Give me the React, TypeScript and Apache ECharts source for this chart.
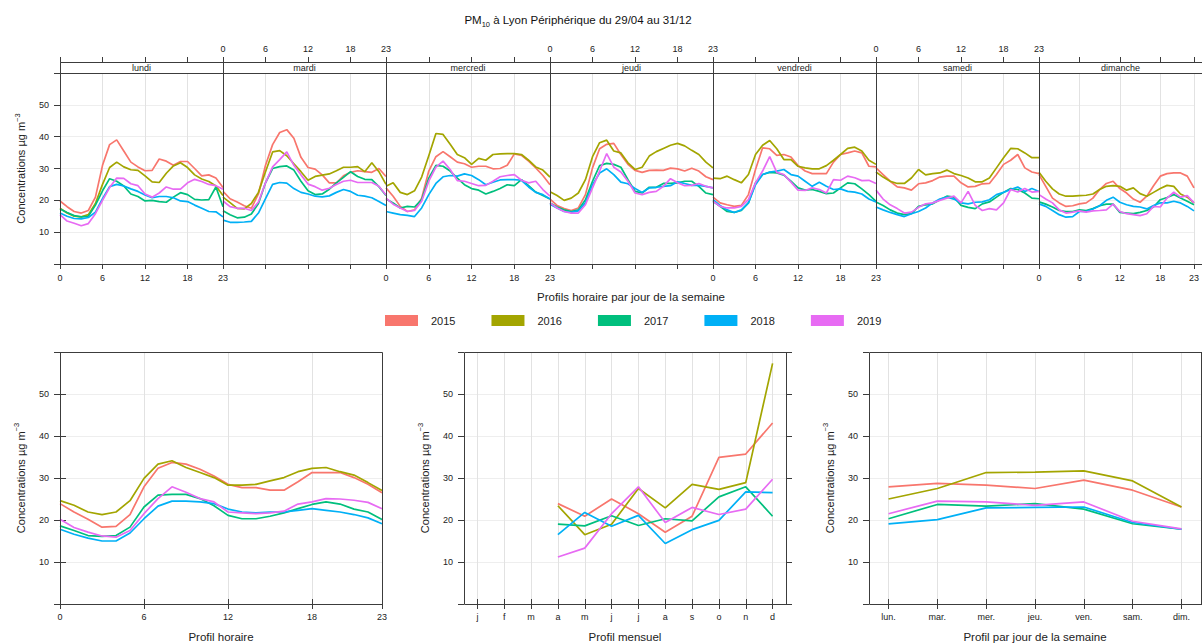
import React, { useEffect, useRef } from 'react';
import * as echarts from 'echarts';

// ---------------- data ----------------
const years = ['2015', '2016', '2017', '2018', '2019'];
const yearColors = ['#F8766D', '#A3A500', '#00BF7D', '#00B0F6', '#E76BF3'];
const dayNames = ['lundi', 'mardi', 'mercredi', 'jeudi', 'vendredi', 'samedi', 'dimanche'];
const hours = [0, 1, 2, 3, 4, 5, 6, 7, 8, 9, 10, 11, 12, 13, 14, 15, 16, 17, 18, 19, 20, 21, 22, 23];
const monthLabels = ['j', 'f', 'm', 'a', 'm', 'j', 'j', 'a', 's', 'o', 'n', 'd'];
const weekdayLabels = ['lun.', 'mar.', 'mer.', 'jeu.', 'ven.', 'sam.', 'dim.'];

// hourly profile per weekday (lundi..dimanche), one array per year
const week2015 = [
  [19.8, 18, 16.5, 16, 16.8, 21, 31, 37.5, 39, 35.5, 32, 30.5, 29.3, 29.4, 33, 32.3, 31, 32.2, 32.2, 30, 27.7, 28, 27, 24],
  [22.8, 20.5, 19.5, 18.3, 17.5, 22, 31, 37.5, 41.3, 42.2, 39.5, 33.5, 30.3, 29.8, 28, 25.5, 25.5, 27.7, 28.8, 29.3, 29, 28.8, 30, 27.5],
  [23.9, 21.3, 18.1, 16.5, 17, 20.7, 29.2, 33.7, 35.3, 33.7, 32, 31.5, 30.4, 30.7, 30.7, 29.9, 30, 31, 34.6, 34.1, 32.3, 30.2, 27.8, 24.9],
  [20.4, 18.4, 17.4, 16.8, 17.6, 21.8, 30.2, 36.2, 37.6, 37.9, 34.4, 31.3, 29.4, 28.8, 29.4, 29.5, 29.4, 30.1, 29.9, 29.2, 30.1, 29.2, 27.4, 26.5],
  [21, 19.2, 18.6, 18.1, 18.4, 21.8, 29.7, 36.5, 36.2, 34.1, 34.4, 33.6, 30.9, 29.2, 28.4, 28.4, 28.4, 32, 34.4, 34.9, 35.5, 34.9, 30.7, 30.5],
  [30.2, 28.1, 26, 24.2, 23.9, 23.2, 25.2, 25.5, 26.2, 27.3, 27.6, 27.6, 25.5, 24.2, 24.4, 25.2, 25.3, 28.1, 31.3, 32.6, 34.4, 30.2, 28.9, 28.4],
  [28.1, 24.4, 20.7, 19.2, 18.1, 18.3, 18.9, 19.2, 20.7, 23.4, 25.3, 26, 23.7, 22.3, 20.4, 19.4, 21.3, 24.6, 27.6, 28.4, 28.6, 28.6, 27.6, 23.9],
];
const week2016 = [
  [17.5, 16, 15, 14.8, 15.5, 19, 25, 30.3, 32, 30.5, 29.6, 29.4, 27.7, 25.8, 25.6, 28.5, 30.8, 31.8, 30.3, 28, 26.7, 25.9, 24.5, 21.5],
  [21, 19.3, 17.5, 17.3, 19, 22.5, 29, 35.2, 35.6, 34, 31.5, 29, 26.3, 27.5, 27.9, 28.3, 29.3, 30.4, 30.4, 30.6, 29, 31.8, 29, 25],
  [24.4, 25.5, 22.5, 21.8, 23, 27.3, 34, 41, 40.7, 37.6, 34.4, 33.4, 31.3, 33.2, 32.6, 34.4, 34.6, 34.7, 34.7, 34.4, 32.6, 30.5, 29.5, 27.3],
  [22.7, 21.5, 20, 20.7, 22.3, 26.5, 33.7, 38.1, 38.9, 35.5, 34.9, 31.8, 29.7, 30.4, 33.9, 35.3, 36.3, 37.3, 37.9, 37.1, 35.7, 34.4, 32, 30.2],
  [27, 26.8, 27.6, 26.5, 25.5, 28.1, 34.4, 37.3, 38.8, 36.2, 32.8, 32.8, 30.7, 30.2, 29.9, 29.9, 30.9, 32.6, 34.4, 36.3, 36.7, 35.5, 32.6, 31.3],
  [28.9, 27.3, 26, 25.3, 25.3, 27, 29.7, 28, 28.4, 28.6, 29.5, 28.4, 27.8, 27, 25.8, 25.8, 27, 30.2, 33.4, 36.3, 36.2, 34.9, 33.4, 33.4],
  [28.8, 26, 23.6, 22, 21.3, 21.3, 21.5, 21.6, 22, 23.4, 24.4, 24.6, 24.4, 23.2, 23.9, 22.1, 21.3, 22.5, 23.7, 24.7, 24.4, 22, 21, 19.2],
];
const week2017 = [
  [17.3, 16.2, 15.2, 14.8, 15, 18.5, 23, 26.8, 26, 24.5, 22, 21.2, 19.8, 20, 19.6, 19.4, 21, 22.4, 21.8, 20.3, 20.1, 20.2, 24.2, 18],
  [16.7, 15.5, 14.5, 14.7, 15.7, 19, 25.5, 30, 30.6, 30.8, 29.5, 26, 23, 21.8, 22, 23.5, 25.5, 27.2, 29, 27.5, 26.6, 26.5, 24.3, 21.5],
  [20.4, 19.2, 17.6, 18.1, 17.9, 20.2, 27, 31, 30.7, 29.2, 27, 24.9, 23.7, 23.2, 22, 22.8, 23.7, 24.9, 24.6, 26.5, 24.6, 22.6, 21.5, 20.4],
  [19.2, 17.9, 17, 16.5, 17, 20.2, 26, 30.9, 31.6, 31.3, 30.4, 26.5, 22.8, 22.3, 24.1, 24.1, 25.3, 25.3, 25.5, 26, 26, 24.4, 22.3, 21.8],
  [19.7, 18.1, 16.5, 16.2, 16.8, 19.2, 25.5, 28.1, 28.8, 28.6, 27.9, 26, 23.9, 23.2, 23.4, 22.8, 22.1, 22.3, 23.9, 25.5, 25.2, 23.6, 21.8, 19.7],
  [19.5, 18.4, 17, 16, 15.5, 15.8, 18.1, 18.6, 18.9, 20.2, 21.3, 21, 18.4, 17.8, 17.4, 18.9, 19.5, 21, 22.5, 23.7, 23.4, 22.3, 20.7, 20.5],
  [19.5, 18.8, 17.9, 16.8, 16.5, 16.5, 17, 16.8, 17.4, 18.3, 18.8, 18.8, 16.2, 16, 15.8, 16.2, 16.8, 17.9, 20.2, 20.9, 21.8, 20.7, 19.7, 18.6],
];
const week2018 = [
  [16, 15, 14.3, 14.2, 14.6, 16.3, 20.5, 24.3, 25, 24.5, 23.6, 22.8, 21.7, 20.8, 21.2, 21.2, 20.8, 19.8, 19.6, 18.5, 17.5, 16.5, 16.4, 14.8],
  [13.8, 13.1, 13.1, 13.2, 13.4, 16, 20.5, 25, 25.6, 25.4, 23.7, 22.5, 22, 21.3, 21.1, 21.4, 22.5, 23.4, 22.8, 21.6, 21.3, 20.8, 19.6, 18.4],
  [16.5, 16, 15.5, 15.3, 14.9, 17.6, 21.8, 25.3, 27.4, 27.8, 27.6, 28.3, 27.8, 26.5, 24.9, 25.7, 26.4, 26.5, 26.5, 26.3, 24.2, 22.5, 21.8, 20.4],
  [18.8, 17.6, 16.5, 16.2, 16.7, 19.2, 24.9, 28.6, 29.9, 28.1, 25.7, 25.2, 23.7, 22.5, 23.9, 24.1, 24.4, 24.6, 25.8, 25.3, 24.7, 24.7, 24.4, 23.9],
  [20.2, 18.4, 17, 16.2, 17, 19.2, 24.9, 28.1, 28.9, 29.2, 29.7, 28.1, 27.6, 26, 24.4, 25.7, 24.4, 23.4, 23.6, 22.8, 22.6, 22, 20.4, 19.5],
  [17.9, 17, 16.2, 15.5, 14.9, 15.8, 16.5, 17.6, 19.2, 20.4, 21, 20.4, 19.2, 18.9, 19.4, 19.5, 20.2, 21.8, 22.5, 23.4, 24.2, 22.8, 23.7, 22.8],
  [18.9, 18.1, 16.8, 15.5, 14.7, 14.9, 16.5, 16.5, 17.3, 18.3, 20, 21, 19.4, 18.6, 18.1, 17.9, 17.3, 18.4, 19.2, 19.2, 19.7, 19.2, 18.1, 16.7],
];
const week2019 = [
  [15.5, 13.5, 12.8, 12, 12.7, 15.8, 20, 24, 27, 26.9, 25.2, 24.6, 22, 21, 22.3, 24.2, 23.5, 23.5, 25.5, 26.6, 25.9, 25, 24.6, 23.5],
  [19.8, 18, 17.5, 17.5, 16.8, 19.5, 25.5, 30.5, 32.8, 35.2, 31, 28, 25.1, 24.3, 23.2, 23.8, 25, 26, 26.3, 25.6, 25.6, 25.6, 24.4, 21.7],
  [20.7, 18.8, 17.6, 16.5, 16.8, 19.7, 26, 30.4, 32.3, 29.7, 26.2, 26, 25.3, 24.6, 24.7, 26, 27.4, 27.8, 28.1, 26.3, 25.5, 26, 23.4, 21.3],
  [19.2, 17.6, 16.5, 16, 16, 18.6, 23.9, 29.2, 34.7, 30.4, 28.9, 26, 22.3, 21.8, 22.5, 22.8, 24.4, 26.8, 25.5, 24.6, 24.7, 25.3, 24.4, 23.9],
  [19.7, 18.1, 17.6, 17.6, 18.1, 20.2, 25.5, 29.2, 33.7, 28.8, 28.1, 25.7, 23.2, 23.1, 23.9, 23.4, 22.3, 26.5, 26.3, 27.6, 27.1, 26.2, 26.3, 25.3],
  [23.2, 20.4, 18.6, 17.4, 16, 16.3, 17.8, 18.9, 19.2, 20, 20.7, 21.3, 19.2, 22.8, 18.4, 16.8, 17.4, 17, 19.2, 23.4, 22.6, 23.7, 22.6, 22.8],
  [21.8, 20.4, 19.2, 17, 16, 16.3, 16.7, 16.3, 16.7, 16.8, 17, 18.8, 16.5, 15.8, 15.5, 15.2, 15.8, 18.1, 17.9, 20.7, 22.6, 21, 21.5, 19.2],
];

// overall hourly profile
const hourly2015 = [23.9, 21.9, 20.2, 18.3, 18.5, 21.3, 27.9, 32.3, 33.7, 33.3, 32.1, 30.5, 28.5, 27.7, 27.7, 27.1, 27.1, 29.1, 31.3, 31.3, 31.3, 30.1, 28.5, 26.5];
const hourly2016 = [24.6, 23.5, 21.9, 21.3, 21.9, 24.6, 29.9, 33.3, 34.1, 32.5, 31.3, 30.1, 28.3, 28.3, 28.5, 29.3, 30.1, 31.5, 32.3, 32.5, 31.5, 30.7, 28.9, 27];
const hourly2017 = [18.6, 17.5, 16.3, 16.1, 16.3, 18.3, 23.1, 25.9, 26.1, 26.1, 25.1, 23.4, 21.1, 20.3, 20.3, 20.9, 21.7, 22.7, 23.7, 24.3, 23.8, 22.6, 21.9, 20.1];
const hourly2018 = [17.8, 16.6, 15.7, 15, 15, 16.9, 20.3, 23.3, 24.5, 24.5, 24.3, 23.9, 22.6, 21.9, 21.7, 21.9, 21.9, 22.3, 22.7, 22.3, 21.9, 21.3, 20.5, 19.1];
const hourly2019 = [20.2, 18.2, 17.1, 16.2, 15.9, 17.5, 21.5, 25.1, 27.9, 26.6, 25.1, 24.3, 21.9, 21.7, 21.5, 21.7, 22.1, 23.8, 24.3, 25.1, 25, 24.7, 24.2, 22.7];

// monthly profile (j..d), no data before April
const monthly2015 = [null, null, null, 23.9, 20.9, 25, 21.5, 17.1, 20.9, 34.9, 35.7, 43.1];
const monthly2016 = [null, null, null, 23.4, 16.5, 19, 27.5, 22.9, 28.5, 27.3, 28.9, 57.3];
const monthly2017 = [null, null, null, 19, 18.6, 21, 18.7, 20.3, 19.8, 25.5, 27.9, 20.9];
const monthly2018 = [null, null, null, 16.5, 21.8, 18.5, 21.1, 14.4, 17.7, 19.9, 26.7, 26.5];
const monthly2019 = [null, null, null, 11.2, 13.3, 21.5, 27.9, 19.4, 23, 21.3, 22.6, 29.7];

// weekday profile (lun..dim)
const weekday2015 = [27.9, 28.7, 28.3, 27.5, 29.5, 27.1, 23.1];
const weekday2016 = [25, 27.5, 31.3, 31.4, 31.7, 29.3, 23.1];
const weekday2017 = [20.3, 23.7, 23.3, 23.9, 22.6, 19.1, 17.8];
const weekday2018 = [19.1, 20.1, 22.9, 23, 23.1, 19.4, 17.8];
const weekday2019 = [21.5, 24.5, 24.3, 23.5, 24.3, 19.7, 17.9];

const weekByYear = [week2015, week2016, week2017, week2018, week2019];
const hourlyByYear = [hourly2015, hourly2016, hourly2017, hourly2018, hourly2019];
const monthlyByYear = [monthly2015, monthly2016, monthly2017, monthly2018, monthly2019];
const weekdayByYear = [weekday2015, weekday2016, weekday2017, weekday2018, weekday2019];

// ---------------- layout / style ----------------
const FONT = '"Liberation Sans", Arial, Helvetica, sans-serif';
const TXT = '#222';
const FRAME = '#3c3c3c';
const VGRID = '#e2e2e2';
const HGRID = '#eeeeee';

const TOP_LEFT = 60;
const DAY_STEP = 163.17;
const TOP_Y = 73;
const TOP_H = 191;
const STRIP_H = 11;
const BOT_Y = 352;
const BOT_H = 252;
const BOT_LEFTS = [60, 464, 869];
const BOT_WIDTHS = [322, 322, 332];

const yNameText = '{t|Concentrations µg m}{s|−3}';
const yNameStyle = {
  color: TXT,
  rich: {
    t: { fontSize: 11, fontFamily: FONT, color: TXT, lineHeight: 16, fontWeight: 'normal' },
    s: { fontSize: 7.5, fontFamily: FONT, color: TXT, lineHeight: 8, verticalAlign: 'top', fontWeight: 'normal' },
  },
};
const yFmt = (v: number) => (v > 0 && v < 60 ? String(v) : '');
const lbl = (show: boolean, margin: number, extra: any = {}) => ({
  show,
  fontSize: 9,
  color: TXT,
  fontFamily: FONT,
  margin,
  ...extra,
});
const tick = (show: boolean, length: number, extra: any = {}) => ({
  show,
  length,
  lineStyle: { color: FRAME, width: 1 },
  ...extra,
});

function buildOption() {
  const grid: any[] = [];
  const xAxis: any[] = [];
  const yAxis: any[] = [];
  const series: any[] = [];
  const title: any[] = [];
  const graphic: any[] = [];

  const lineSeries = (y: number, xi: number, yi: number, data: any[]) => ({
    name: years[y],
    type: 'line',
    xAxisIndex: xi,
    yAxisIndex: yi,
    data,
    symbol: 'none',
    showSymbol: false,
    silent: true,
    z: 3,
    itemStyle: { color: yearColors[y] },
    lineStyle: { color: yearColors[y], width: 1.7 },
  });

  // ---- top panel: 7 days ----
  dayNames.forEach((day, d) => {
    const left = Math.round(TOP_LEFT + d * DAY_STEP);
    const right = Math.round(TOP_LEFT + (d + 1) * DAY_STEP);
    const width = right - left;
    grid.push({ left, top: TOP_Y, width, height: TOP_H, containLabel: false });
    xAxis.push({
      type: 'value', gridIndex: d, min: 0, max: 23, interval: 6, position: 'bottom',
      axisLine: { show: false },
      axisTick: tick(true, 5),
      axisLabel: lbl(d % 2 === 0, 9),
      splitLine: { show: true, lineStyle: { color: VGRID, width: 1 } },
    });
    xAxis.push({
      type: 'value', gridIndex: d, min: 0, max: 23, interval: 6, position: 'top', offset: STRIP_H,
      axisLine: { show: false },
      axisTick: tick(true, 5),
      axisLabel: lbl(d % 2 === 1, 9),
      splitLine: { show: false },
    });
    yAxis.push({
      type: 'value', gridIndex: d, min: 0, max: 60, interval: 10,
      axisLine: { show: false },
      axisTick: tick(d === 0, 6),
      axisLabel: lbl(d === 0, 11, { formatter: yFmt }),
      splitLine: { show: true, lineStyle: { color: HGRID, width: 1 } },
      name: d === 0 ? yNameText : '',
      nameLocation: 'middle', nameGap: 31, nameRotate: 90, nameTextStyle: yNameStyle,
    });
    // strip (below the strip label) + frame (on top of everything)
    graphic.push({
      type: 'rect', z: 1, silent: true,
      shape: { x: left + 0.5, y: TOP_Y - STRIP_H + 0.5, width, height: STRIP_H },
      style: { fill: '#ffffff', stroke: FRAME, lineWidth: 1 },
    });
    graphic.push({
      type: 'rect', z: 100, silent: true,
      shape: { x: left + 0.5, y: TOP_Y - STRIP_H + 0.5, width, height: STRIP_H },
      style: { fill: 'none', stroke: FRAME, lineWidth: 1 },
    });
    graphic.push({
      type: 'rect', z: 100, silent: true,
      shape: { x: left + 0.5, y: TOP_Y + 0.5, width, height: TOP_H },
      style: { fill: 'none', stroke: FRAME, lineWidth: 1 },
    });
    title.push({
      text: day, left: left + width / 2, top: TOP_Y - STRIP_H / 2 + 0.5,
      textAlign: 'center', textVerticalAlign: 'middle', padding: 0, z: 20,
      textStyle: { fontSize: 9, fontWeight: 'normal', color: TXT, fontFamily: FONT },
    });
    years.forEach((_, y) => {
      series.push(lineSeries(y, 2 * d, d, hours.map((h, k) => [h, weekByYear[y][d][k]])));
    });
  });

  // ---- bottom panels ----
  const xNames = ['Profil horaire', 'Profil mensuel', 'Profil par jour de la semaine'];
  const monthTicks = monthLabels.map((_, k) => k + 1);
  const weekdayTicks = weekdayLabels.map((_, k) => k + 1);
  const xCfg = [
    { min: 0, max: 23, interval: 6 },
    { min: 0.5, max: 12.5, ticks: monthTicks, fmt: (v: number) => monthLabels[Math.round(v) - 1] || '' },
    { min: 0.6, max: 7.4, ticks: weekdayTicks, fmt: (v: number) => weekdayLabels[Math.round(v) - 1] || '' },
  ];
  for (let p = 0; p < 3; p++) {
    const g = 7 + p;
    const left = BOT_LEFTS[p];
    const width = BOT_WIDTHS[p];
    grid.push({ left, top: BOT_Y, width, height: BOT_H, containLabel: false });
    const cfg: any = xCfg[p];
    const base: any = { type: 'value', gridIndex: g, min: cfg.min, max: cfg.max };
    if (cfg.interval) base.interval = cfg.interval;
    const labelExtra: any = {};
    const tickExtra: any = {};
    if (cfg.ticks) {
      labelExtra.customValues = cfg.ticks;
      labelExtra.formatter = cfg.fmt;
      tickExtra.customValues = cfg.ticks;
    }
    xAxis.push({
      ...base, position: 'bottom',
      axisLine: { show: false },
      axisTick: tick(true, 5, tickExtra),
      axisLabel: lbl(true, 8.5, labelExtra),
      splitLine: { show: true, lineStyle: { color: VGRID, width: 1 } },
    });
    xAxis.push({
      ...base, position: 'top',
      axisLine: { show: false },
      axisTick: tick(true, 5, tickExtra),
      axisLabel: { show: false, ...(cfg.ticks ? { customValues: cfg.ticks } : {}) },
      splitLine: { show: false },
    });
    yAxis.push({
      type: 'value', gridIndex: g, min: 0, max: 60, interval: 10, position: 'left',
      axisLine: { show: false },
      axisTick: tick(true, 6),
      axisLabel: lbl(true, 11, { formatter: yFmt }),
      splitLine: { show: true, lineStyle: { color: HGRID, width: 1 } },
      name: yNameText, nameLocation: 'middle', nameGap: 31.5, nameRotate: 90, nameTextStyle: yNameStyle,
    });
    yAxis.push({
      type: 'value', gridIndex: g, min: 0, max: 60, interval: 10, position: 'right',
      axisLine: { show: false },
      axisTick: tick(true, 6),
      axisLabel: { show: false },
      splitLine: { show: false },
    });
    graphic.push({
      type: 'rect', z: 100, silent: true,
      shape: { x: left + 0.5, y: BOT_Y + 0.5, width, height: BOT_H },
      style: { fill: 'none', stroke: FRAME, lineWidth: 1 },
    });
    title.push({
      text: xNames[p], left: left + width / 2, top: 637,
      textAlign: 'center', textVerticalAlign: 'middle', padding: 0,
      textStyle: { fontSize: 11.5, fontWeight: 'normal', color: TXT, fontFamily: FONT },
    });
    const xi = 14 + 2 * p;
    const yi = 7 + 2 * p;
    years.forEach((_, y) => {
      let data: any[] = [];
      if (p === 0) data = hours.map((h, k) => [h, hourlyByYear[y][k]]);
      if (p === 1)
        data = monthlyByYear[y]
          .map((v, k) => (v == null ? null : [k + 1, v]))
          .filter((v) => v != null);
      if (p === 2) data = weekdayByYear[y].map((v, k) => [k + 1, v]);
      series.push(lineSeries(y, xi, yi, data));
    });
  }

  // main titles
  title.push({
    text: '{a|PM}{b|10}{a| à Lyon Périphérique du 29/04 au 31/12}',
    left: 578, top: 20, textAlign: 'center', textVerticalAlign: 'middle', padding: 0,
    textStyle: {
      fontWeight: 'normal',
      rich: {
        a: { fontSize: 11.5, fontFamily: FONT, color: '#111', lineHeight: 16, fontWeight: 'normal' },
        b: { fontSize: 7.5, fontFamily: FONT, color: '#111', lineHeight: 8, verticalAlign: 'bottom', fontWeight: 'normal' },
      },
    },
  });
  title.push({
    text: 'Profils horaire par jour de la semaine',
    left: 631, top: 297, textAlign: 'center', textVerticalAlign: 'middle', padding: 0,
    textStyle: { fontSize: 11.5, fontWeight: 'normal', color: TXT, fontFamily: FONT },
  });

  return {
    animation: false,
    backgroundColor: '#ffffff',
    textStyle: { fontFamily: FONT },
    title,
    legend: {
      data: years,
      left: 380,
      top: 310,
      icon: 'rect',
      itemWidth: 33,
      itemHeight: 11,
      itemGap: 36,
      selectedMode: false,
      textStyle: { fontSize: 11, color: TXT, fontFamily: FONT, padding: [0, 0, 0, 8] },
    },
    grid,
    xAxis,
    yAxis,
    series,
    graphic: { elements: graphic },
  };
}

export default function App() {
  const ref = useRef<HTMLDivElement>(null);
  useEffect(() => {
    if (!ref.current) return;
    const chart = echarts.init(ref.current, null, { renderer: 'svg' });
    chart.setOption(buildOption() as any);
    return () => chart.dispose();
  }, []);
  return (
    <div
      ref={ref}
      style={{ position: 'absolute', left: 0, top: 0, width: 1202, height: 643 }}
    />
  );
}
